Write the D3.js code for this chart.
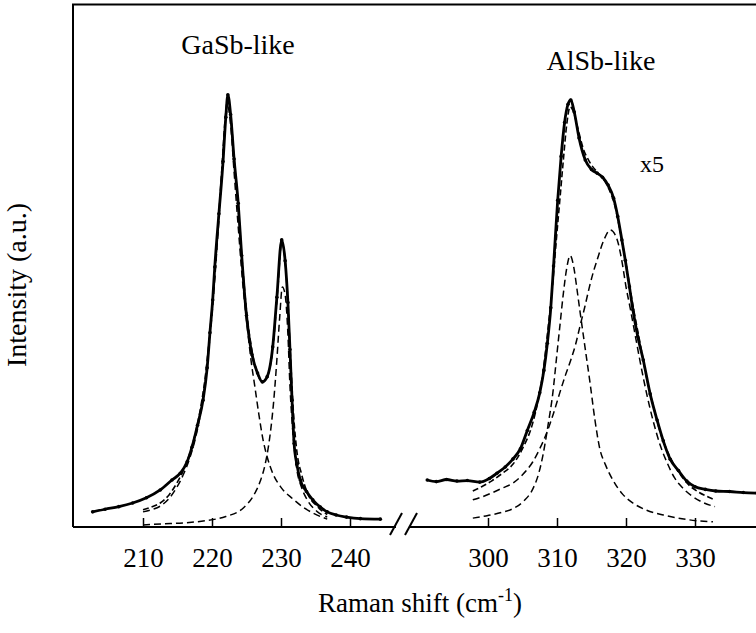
<!DOCTYPE html>
<html>
<head>
<meta charset="utf-8">
<script src="https://cdn.jsdelivr.net/npm/d3@7/dist/d3.min.js"></script>
<style>
  body { margin: 0; background: #fff; }
</style>
</head>
<body>
<div id="chart"></div>
<script>
// GaSb-like band, [Raman shift (cm-1), intensity (a.u.)]
const gasbMeasured = [
  [202.7, 2.9], [204.5, 3.4], [206.5, 3.9], [208.5, 4.6], [210.5, 5.6], [212.5, 7.1],
  [214.2, 9.0], [215.4, 10.3], [216.4, 12.5], [217.1, 15.3], [217.9, 19.5], [218.7, 24.3],
  [219.3, 30.5], [219.7, 37.2], [220.1, 43.5], [220.4, 49.8], [221.0, 60.0], [221.6, 70.0],
  [222.0, 78.5], [222.3, 82.8], [222.7, 79.0], [223.2, 70.5], [223.8, 62.0], [224.3, 52.0],
  [225.0, 40.5], [225.8, 33.0], [226.6, 29.5], [227.3, 27.8], [228.0, 28.8], [228.8, 34.5],
  [229.4, 44.0], [230.1, 55.0], [230.6, 51.0], [231.0, 43.0], [231.3, 34.0], [231.6, 24.3],
  [231.9, 16.0], [232.3, 12.0], [232.8, 9.0], [233.7, 6.8], [234.6, 5.2], [235.7, 3.8],
  [236.7, 2.9], [238.0, 2.3], [239.5, 1.9], [241.5, 1.6], [244.4, 1.5]
];
const gasbFit = [
  [210, 3.3], [211.2, 3.8], [212.5, 4.6], [213.8, 6.2], [214.9, 8.4], [215.9, 11.0],
  [216.8, 14.2], [217.6, 18.0], [218.3, 22.5], [219.0, 28.5], [219.6, 36.0], [220.2, 45.0],
  [220.8, 56.0], [221.4, 68.0], [221.9, 78.0], [222.3, 82.0], [222.7, 79.0], [223.2, 70.5],
  [223.8, 61.0], [224.4, 50.5], [225.0, 41.5], [225.7, 34.5], [226.5, 29.8], [227.3, 27.8],
  [228.0, 28.8], [228.8, 34.0], [229.5, 45.0], [230.1, 54.5], [230.6, 51.0], [231.0, 43.0],
  [231.4, 32.0], [231.8, 22.0], [232.3, 14.5], [233.0, 10.0], [233.8, 6.6], [235.2, 4.0],
  [236.7, 2.4]
];
const gasbPeak1 = [
  [210, 2.9], [211.2, 3.3], [212.5, 4.0], [213.8, 5.5], [214.9, 7.6], [215.9, 10.2],
  [216.8, 13.3], [217.6, 17.0], [218.3, 21.5], [219.0, 27.5], [219.6, 35.0], [220.2, 44.0],
  [220.8, 55.0], [221.4, 67.0], [221.9, 77.0], [222.3, 80.5], [222.7, 77.0], [223.2, 68.0],
  [223.8, 57.5], [224.4, 47.5], [225.2, 37.2], [225.7, 31.5], [226.2, 27.0], [226.8, 21.5],
  [227.4, 16.7], [228.0, 13.4], [228.8, 10.3], [230.0, 7.6], [231.7, 5.4], [233.2, 3.8],
  [234.6, 2.7], [236.7, 1.5]
];
const gasbPeak2 = [
  [210, 0.4], [213, 0.6], [216, 0.8], [219, 1.2], [222, 2.0], [224.5, 3.6], [226.0, 6.0],
  [227.0, 8.8], [227.7, 12.0], [228.3, 16.5], [228.9, 23.5], [229.4, 32.0], [229.8, 40.0],
  [230.2, 46.0], [230.6, 44.5], [231.0, 37.0], [231.3, 27.0], [231.7, 18.5], [232.3, 11.0],
  [233.0, 7.5], [233.8, 5.2], [235.2, 3.0], [236.7, 1.9]
];

// AlSb-like band (x5)
const alsbMeasured = [
  [291.2, 9.0], [292.5, 8.7], [294.0, 9.1], [295.5, 8.8], [297.0, 8.9], [298.8, 8.6],
  [300.2, 9.3], [301.3, 10.3], [302.5, 11.5], [303.6, 13.0], [304.7, 15.0], [305.7, 18.5],
  [306.7, 22.0], [307.5, 25.7], [308.1, 30.0], [308.6, 35.2], [309.1, 42.0], [309.5, 50.0],
  [310.1, 62.6], [310.6, 71.0], [311.1, 77.5], [311.6, 81.0], [312.0, 81.8], [312.5, 79.5],
  [313.2, 74.5], [314.1, 70.3], [315.0, 68.5], [315.8, 67.8], [316.6, 67.0], [317.4, 65.5],
  [318.2, 63.0], [318.8, 59.5], [319.4, 55.0], [319.9, 51.1], [320.5, 46.0], [321.0, 41.6],
  [321.7, 36.5], [322.5, 32.0], [323.5, 25.5], [324.5, 20.5], [325.4, 16.5], [326.4, 13.0],
  [327.6, 10.8], [328.8, 8.8], [330.0, 7.7], [331.5, 7.2], [333.0, 6.9], [335.0, 6.8],
  [337.0, 6.6], [339.0, 6.5]
];
const alsbFit = [
  [297.8, 6.9], [299.2, 7.8], [300.5, 8.8], [302.0, 10.2], [303.6, 12.0], [305.0, 15.0],
  [306.5, 20.0], [307.3, 24.5], [308.0, 30.0], [308.7, 38.0], [309.4, 47.0], [309.9, 55.0],
  [310.4, 62.5], [310.9, 70.0], [311.4, 77.0], [311.9, 80.5], [312.4, 79.5], [313.0, 76.5],
  [313.8, 72.5], [314.7, 70.0], [315.8, 68.0], [316.8, 66.5], [317.6, 64.5], [318.4, 61.5],
  [319.1, 57.0], [320.0, 50.5], [321.0, 42.5], [322.0, 35.5], [323.0, 28.5], [324.0, 23.0],
  [325.0, 18.0], [326.0, 14.5], [327.5, 10.8], [329.0, 8.2], [330.5, 6.7], [332.0, 5.7],
  [332.9, 5.2]
];
const alsbPeak1 = [
  [297.8, 1.7], [300.0, 2.2], [302.0, 2.8], [303.6, 3.5], [305.2, 5.0], [306.5, 7.3],
  [307.4, 10.5], [308.0, 14.0], [308.7, 19.5], [309.4, 25.7], [309.9, 32.0], [310.4, 38.3],
  [310.9, 44.5], [311.4, 49.5], [311.9, 52.0], [312.4, 50.0], [312.9, 45.5], [313.3, 41.6],
  [314.0, 35.0], [314.8, 27.5], [315.5, 20.5], [316.2, 15.0], [317.0, 12.0], [318.1, 9.0],
  [319.5, 6.3], [321.0, 4.6], [323.0, 3.2], [325.4, 2.3], [329.0, 1.4], [332.6, 1.0]
];
const alsbPeak2 = [
  [297.8, 5.2], [299.2, 5.8], [300.5, 6.5], [302.0, 7.4], [303.6, 8.4], [305.0, 10.0],
  [306.5, 12.5], [307.5, 15.0], [308.5, 18.0], [309.5, 21.8], [310.4, 25.7], [311.2, 29.0],
  [312.0, 32.0], [312.7, 35.0], [313.3, 38.3], [314.0, 42.0], [314.7, 46.0], [315.3, 49.0],
  [315.8, 51.1], [316.8, 55.0], [317.7, 56.9], [318.6, 55.5], [319.4, 51.0], [320.0, 46.0],
  [320.6, 42.0], [321.3, 37.0], [322.0, 32.0], [323.0, 25.5], [323.9, 20.5], [325.0, 15.5],
  [325.9, 12.5], [327.0, 9.5], [328.2, 7.5], [329.5, 6.0], [331.0, 4.8], [332.9, 3.9]
];

const leftTicks = [210, 220, 230, 240];
const rightTicks = [300, 310, 320, 330];

const width = 756, height = 633;
const serif = '"Liberation Serif"';

const svg = d3.select("#chart")
  .append("svg")
  .attr("width", width)
  .attr("height", height);

// broken x axis: two linear pieces with the same scale factor
const xLeft = d3.scaleLinear().domain([210, 240]).range([143, 350]);
const xRight = d3.scaleLinear().domain([300, 330]).range([488, 695]);
const y = d3.scaleLinear().domain([0, 100]).range([527, 5]);

const frameLeft = 73, frameTop = 4.5, axisY = y(0);

// frame (left and top), right edge is off the page
svg.append("path")
  .attr("d", `M${frameLeft},${axisY} V${frameTop} H${width}`)
  .attr("fill", "none")
  .attr("stroke", "#000")
  .attr("stroke-width", 2);

// bottom axis with a gap and break marks
svg.append("line")
  .attr("x1", frameLeft).attr("x2", 396)
  .attr("y1", axisY).attr("y2", axisY)
  .attr("stroke", "#000").attr("stroke-width", 2);
svg.append("line")
  .attr("x1", 409).attr("x2", width)
  .attr("y1", axisY).attr("y2", axisY)
  .attr("stroke", "#000").attr("stroke-width", 2);
[390, 405].forEach(x0 => {
  svg.append("line")
    .attr("x1", x0).attr("y1", axisY + 8)
    .attr("x2", x0 + 12).attr("y2", axisY - 14)
    .attr("stroke", "#000").attr("stroke-width", 2);
});

function drawAxis(scale, ticks) {
  const g = svg.append("g")
    .attr("transform", `translate(0,${axisY})`)
    .call(d3.axisBottom(scale)
      .tickValues(ticks)
      .tickSizeInner(-9)
      .tickSizeOuter(0)
      .tickPadding(21)
      .tickFormat(d3.format("d")));
  g.select(".domain").remove();
  g.selectAll(".tick line").attr("stroke", "#000").attr("stroke-width", 1.5);
  g.selectAll(".tick text")
    .attr("fill", "#000")
    .style("font-family", serif)
    .style("font-size", "27px");
}
drawAxis(xLeft, leftTicks);
drawAxis(xRight, rightTicks);

// spectra
function drawCurve(data, scale, style) {
  const line = d3.line()
    .x(d => scale(d[0]))
    .y(d => y(d[1]))
    .curve(d3.curveMonotoneX);
  svg.append("path")
    .datum(data)
    .attr("d", line)
    .attr("fill", "none")
    .attr("stroke", "#000")
    .attr("stroke-width", style.w)
    .attr("stroke-dasharray", style.dash || null)
    .attr("stroke-linejoin", "round");
}

// measured points sit on the line as small dots
function drawDots(data, scale) {
  svg.append("g")
    .selectAll("circle")
    .data(data)
    .join("circle")
    .attr("cx", d => scale(d[0]))
    .attr("cy", d => y(d[1]))
    .attr("r", 1.8)
    .attr("fill", "#000");
}

const measuredStyle = { w: 2.8 };
const fitStyle = { w: 1.6, dash: "6,3" };
const peakStyle = { w: 1.5, dash: "7,4" };

drawCurve(gasbPeak2, xLeft, peakStyle);
drawCurve(gasbPeak1, xLeft, peakStyle);
drawCurve(gasbFit, xLeft, fitStyle);
drawCurve(gasbMeasured, xLeft, measuredStyle);
drawDots(gasbMeasured, xLeft);

drawCurve(alsbPeak1, xRight, peakStyle);
drawCurve(alsbPeak2, xRight, peakStyle);
drawCurve(alsbFit, xRight, fitStyle);
drawCurve(alsbMeasured, xRight, measuredStyle);
drawDots(alsbMeasured, xRight);

// labels
function label(x, yPos, size, anchor) {
  return svg.append("text")
    .attr("x", x).attr("y", yPos)
    .attr("text-anchor", anchor)
    .style("font-family", serif)
    .style("font-size", size + "px");
}

label(238, 54, 28, "middle").text("GaSb-like");
label(601, 70, 28, "middle").text("AlSb-like");
label(640, 172, 24, "start").text("x5");

const xTitle = label(420, 612, 27, "middle");
xTitle.append("tspan").text("Raman shift (cm");
xTitle.append("tspan").attr("dy", -11).style("font-size", "18px").text("-1");
xTitle.append("tspan").attr("dy", 11).text(")");

svg.append("text")
  .attr("transform", "translate(26,285) rotate(-90)")
  .attr("text-anchor", "middle")
  .style("font-family", serif)
  .style("font-size", "28px")
  .text("Intensity (a.u.)");
</script>
</body>
</html>
